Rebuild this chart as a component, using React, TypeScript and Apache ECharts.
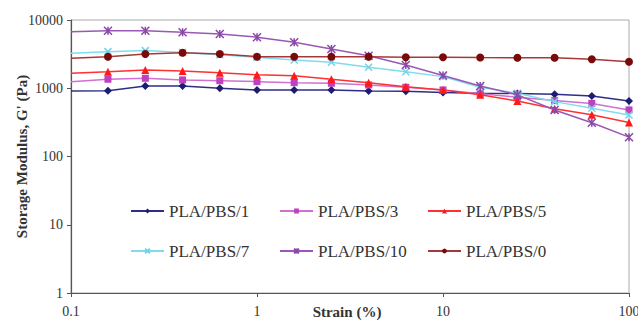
import React, { useEffect, useRef } from "react";
import * as echarts from "echarts";

const strain = [0.1, 0.158, 0.251, 0.398, 0.631, 1, 1.585, 2.512, 3.981, 6.31, 10, 15.85, 25.12, 39.81, 63.1, 100];
const seriesNames = ["PLA/PBS/1", "PLA/PBS/3", "PLA/PBS/5", "PLA/PBS/7", "PLA/PBS/10", "PLA/PBS/0"];
const pbs1 = [912, 920, 1080, 1080, 1000, 945, 945, 945, 912, 900, 870, 845, 840, 818, 771, 650];
const pbs3 = [1250, 1355, 1400, 1325, 1290, 1250, 1208, 1183, 1117, 1035, 945, 830, 740, 660, 600, 481];
const pbs5 = [1660, 1750, 1850, 1790, 1690, 1580, 1520, 1355, 1208, 1055, 945, 800, 650, 500, 410, 315];
const pbs7 = [3250, 3440, 3560, 3350, 3100, 2850, 2590, 2400, 2030, 1750, 1480, 1035, 845, 637, 509, 406];
const pbs10 = [6740, 6970, 6970, 6600, 6240, 5600, 4710, 3760, 3000, 2190, 1540, 1080, 800, 480, 313, 192];
const pbs0 = [2750, 2900, 3180, 3320, 3180, 2900, 2900, 2900, 2900, 2850, 2850, 2820, 2800, 2800, 2660, 2450];
const xTicks = [0.1, 1, 10, 100];
const yTicks = [1, 10, 100, 1000, 10000];

const FONT = "'Liberation Serif', 'Times New Roman', serif";

const styles = [
  { line: "#2e2e88", mark: "#1c1c70", symbol: "diamond", size: 8 },
  { line: "#d070d0", mark: "#c040c0", symbol: "rect", size: 7 },
  { line: "#ff3030", mark: "#ff1a1a", symbol: "triangle", size: 8 },
  { line: "#80dcec", mark: "#70d4e8", symbol: "path://M0,0L10,10M10,0L0,10", size: 7, stroke: true },
  { line: "#9a58b4", mark: "#8a48a8", symbol: "path://M0,0L10,10M10,0L0,10M5,0L5,10", size: 8, stroke: true },
  { line: "#a83838", mark: "#7a0a0a", symbol: "circle", size: 8 },
];

const values = [pbs1, pbs3, pbs5, pbs7, pbs10, pbs0];

function fmt(v: number) {
  return String(Number(Number(v).toPrecision(6)));
}

export default function App() {
  const ref = useRef<HTMLDivElement>(null);
  useEffect(() => {
    if (!ref.current) return;
    const chart = echarts.init(ref.current, null, { renderer: "svg" });
    const series = values.map((vals, i) => {
      const s = styles[i];
      return {
        name: seriesNames[i],
        type: "line",
        symbol: s.symbol,
        symbolSize: s.size,
        showAllSymbol: true,
        lineStyle: { color: s.line, width: 1.5 },
        itemStyle: s.stroke
          ? { color: s.mark, borderColor: s.mark, borderWidth: 1.5 }
          : { color: s.mark, borderWidth: 0 },
        data: vals.map((v, k) =>
          k === 0 ? { value: [strain[k], v], symbol: "none" } : { value: [strain[k], v] }
        ),
        z: 2 + i,
      };
    });
    const legendCommon = {
      orient: "vertical",
      top: 202,
      padding: 0,
      itemWidth: 33,
      itemHeight: 6,
      itemGap: 22,
      textStyle: { fontFamily: FONT, fontSize: 17, color: "#333", lineHeight: 18 },
    };
    chart.setOption({
      animation: false,
      backgroundColor: "#fff",
      grid: {
        left: 71,
        right: 9,
        top: 20,
        bottom: 30,
        outerBoundsMode: "none",
        containLabel: false,
        show: true,
        borderColor: "#aaaaaa",
        borderWidth: 1,
      },
      legend: [
        { ...legendCommon, left: 130, data: [seriesNames[0], seriesNames[3]] },
        { ...legendCommon, left: 279, data: [seriesNames[1], seriesNames[4]] },
        { ...legendCommon, left: 427, data: [seriesNames[2], seriesNames[5]] },
      ],
      xAxis: {
        type: "log",
        logBase: 10,
        min: xTicks[0],
        max: xTicks[xTicks.length - 1],
        name: "Strain (%)",
        nameLocation: "middle",
        nameGap: 11,
        nameMoveOverlap: false,
        nameTextStyle: { fontFamily: FONT, fontSize: 15, fontWeight: "bold", color: "#333", padding: [0, 0, 0, -6] },
        axisLine: { show: true, lineStyle: { color: "#555", width: 1.2 } },
        axisTick: { show: true, length: 4, lineStyle: { color: "#555" } },
        splitLine: { show: false },
        minorTick: { show: false },
        axisLabel: { fontFamily: FONT, fontSize: 14, color: "#333", margin: 11, formatter: fmt },
      },
      yAxis: {
        type: "log",
        logBase: 10,
        min: yTicks[0],
        max: yTicks[yTicks.length - 1],
        name: "Storage Modulus, G' (Pa)",
        nameLocation: "middle",
        nameGap: 42,
        nameRotate: 90,
        nameMoveOverlap: false,
        nameTextStyle: { fontFamily: FONT, fontSize: 15, fontWeight: "bold", color: "#333" },
        axisLine: { show: true, lineStyle: { color: "#555", width: 1.2 } },
        axisTick: { show: true, length: 4, lineStyle: { color: "#555" } },
        splitLine: { show: false },
        axisLabel: { fontFamily: FONT, fontSize: 14, color: "#333", margin: 8, formatter: fmt },
      },
      series,
    });
    return () => chart.dispose();
  }, []);
  return <div ref={ref} style={{ width: 638, height: 323, position: "absolute", left: 0, top: 0 }} />;
}
